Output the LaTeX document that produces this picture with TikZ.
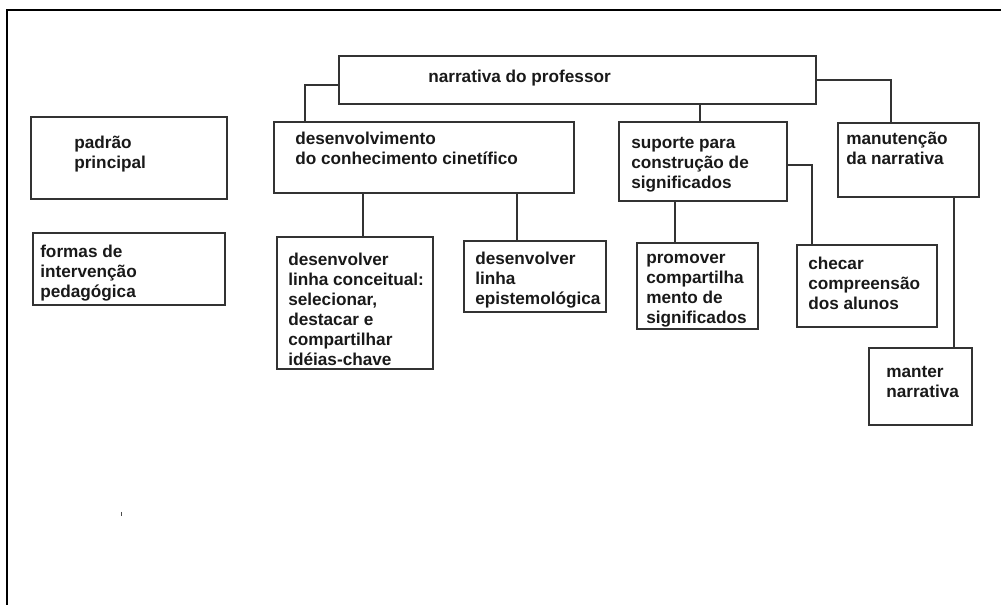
\documentclass[tikz,border=0pt]{standalone}
\usepackage{fontspec}
\setmainfont{Liberation Sans}
\newlength\px
\setlength\px{0.75pt}
\begin{document}
\begin{tikzpicture}[x=0.75pt, y=-0.75pt,
	box/.style={rectangle, draw=black!80, line width=1.4\px, inner sep=0pt, outer sep=0pt},
	txt/.style={anchor=base west, align=left, inner sep=0pt, text=black!90, font=\bfseries\fontsize{12.9}{15}\selectfont},
	link/.style={draw=black!80, line width=1.4\px}]
	\useasboundingbox (0,0) rectangle (1001,605);
	\draw[line width=2.4\px] (7,605) -- (7,10) -- (1001,10);
	\draw[line width=1\px, black!70] (121,512) -- (121,516);

	\node[box, minimum width=477\px, minimum height=48\px](topBox) at (577.5,80){};
	\node[box, minimum width=196\px, minimum height=82\px](padraoBox) at (129,158){};
	\node[box, minimum width=192\px, minimum height=72\px](formasBox) at (129,269){};
	\node[box, minimum width=300\px, minimum height=71\px](desenvBox) at (424,157.5){};
	\node[box, minimum width=168\px, minimum height=79\px](suporteBox) at (703,161.5){};
	\node[box, minimum width=141\px, minimum height=74\px](manutBox) at (908.5,160){};
	\node[box, minimum width=156\px, minimum height=132\px](conceitBox) at (355,303){};
	\node[box, minimum width=142\px, minimum height=71\px](epistBox) at (535,276.5){};
	\node[box, minimum width=121\px, minimum height=86\px](promoverBox) at (697.5,286){};
	\node[box, minimum width=140\px, minimum height=82\px](checarBox) at (867,286){};
	\node[box, minimum width=103\px, minimum height=77\px](manterBox) at (920.5,386.5){};

	\node[txt](topText) at (428,83){narrativa do professor};
	\node[txt](padraoText) at (74,169){padrão\\principal};
	\node[txt](formasText) at (40,298){formas de\\intervenção\\pedagógica};
	\node[txt](desenvText) at (295,165){desenvolvimento\\do conhecimento cinetífico};
	\node[txt](suporteText) at (631,189){suporte para\\construção de\\significados};
	\node[txt](manutText) at (846,165){manutenção\\da narrativa};
	\node[txt](conceitText) at (288,366){desenvolver\\linha conceitual:\\selecionar,\\destacar e\\compartilhar\\idéias-chave};
	\node[txt](epistText) at (475,305){desenvolver\\linha\\epistemológica};
	\node[txt](promoverText) at (646,324){promover\\compartilha\\mento de\\significados};
	\node[txt](checarText) at (808,310){checar\\compreensão\\dos alunos};
	\node[txt](manterText) at (886,398){manter\\narrativa};

	\draw[link] (topBox.west |- 0,85) -| (desenvBox.north -| 305,0);
	\draw[link] (topBox.south -| 700,0) -- (suporteBox.north -| 700,0);
	\draw[link] (topBox.east) -| (manutBox.north -| 891,0);
	\draw[link] (desenvBox.south -| 363,0) -- (conceitBox.north -| 363,0);
	\draw[link] (desenvBox.south -| 517,0) -- (epistBox.north -| 517,0);
	\draw[link] (suporteBox.south -| 675,0) -- (promoverBox.north -| 675,0);
	\draw[link] (suporteBox.east |- 0,165) -| (checarBox.north -| 812,0);
	\draw[link] (manutBox.south -| 954,0) -- (manterBox.north -| 954,0);
\end{tikzpicture}
\end{document}
